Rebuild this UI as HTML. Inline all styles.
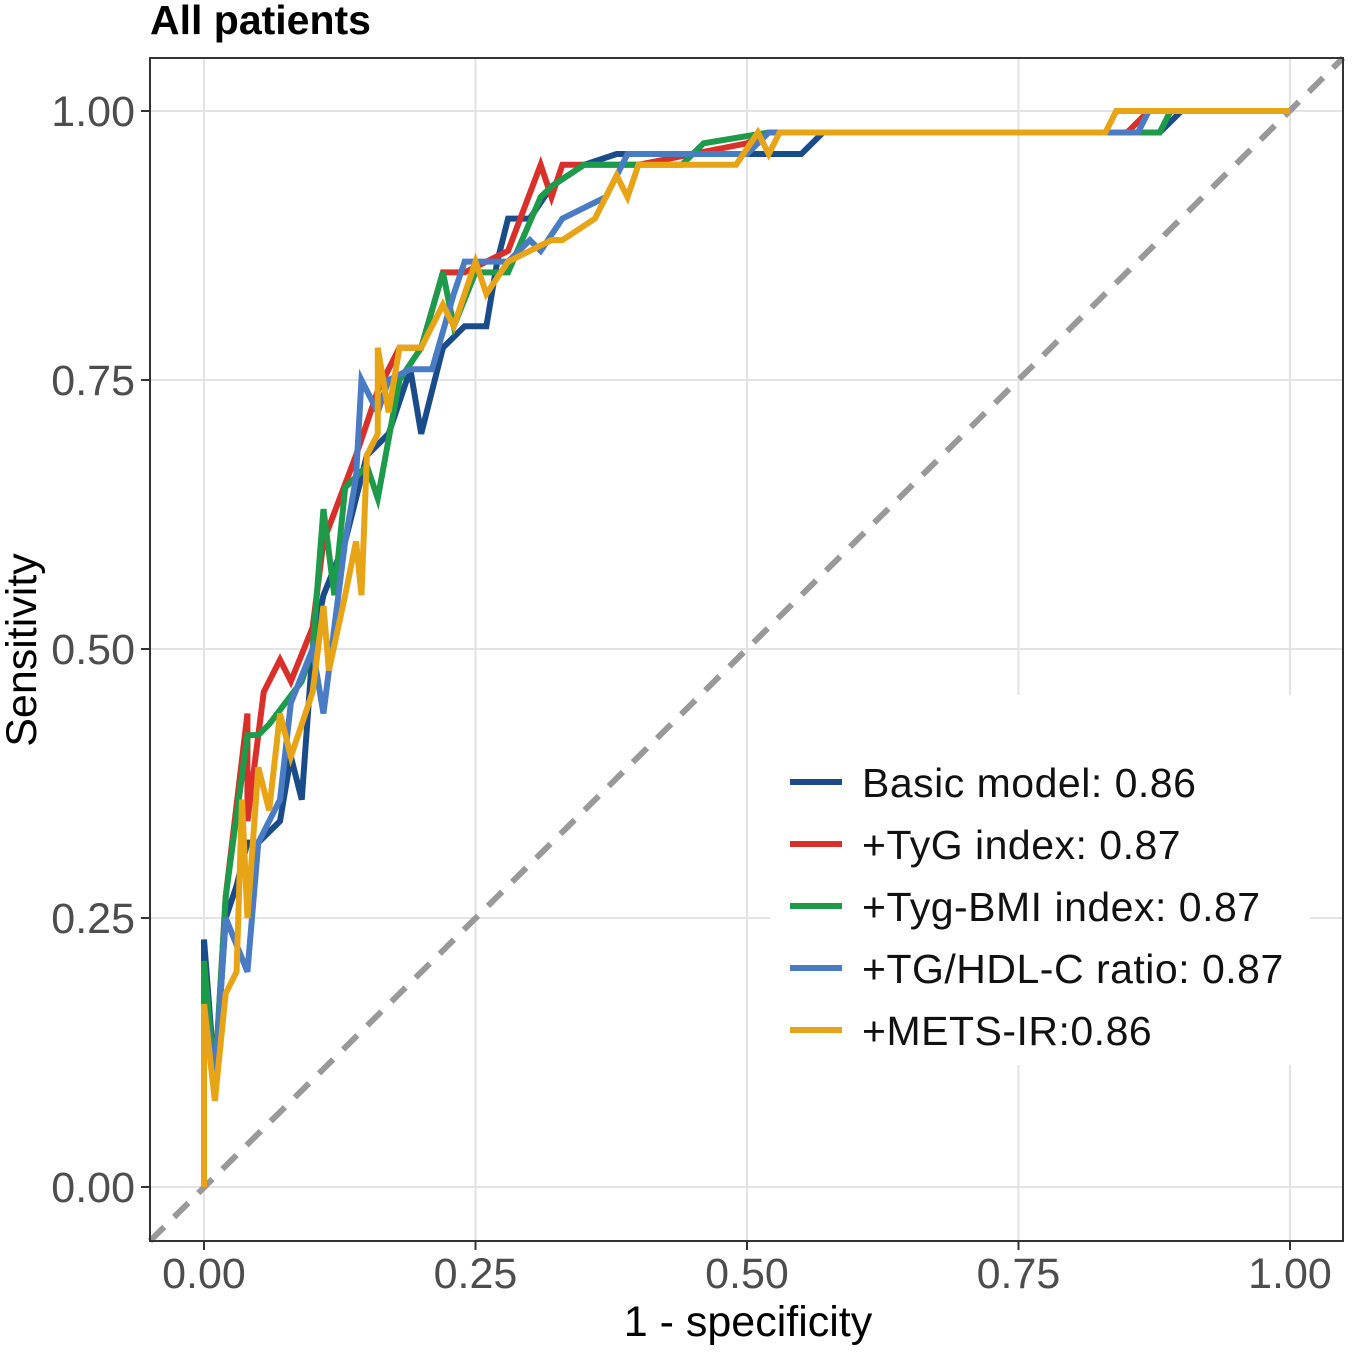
<!DOCTYPE html>
<html><head><meta charset="utf-8"><style>
body{margin:0;background:#fff}
svg{display:block;font-family:"Liberation Sans",Arial,sans-serif}
</style></head><body>
<svg id="chart" width="1355" height="1355" viewBox="0 0 1355 1355">
<rect width="1355" height="1355" fill="#fff"/>
<g id="grid"></g>
<line x1="150" y1="1241" x2="1343" y2="58" stroke="#999" stroke-width="6" stroke-dasharray="20,14"/>
<g id="series"></g>
<rect x="770" y="695" width="540" height="370" fill="#fff"/>
<rect x="150" y="58" width="1193" height="1183" fill="none" stroke="#333" stroke-width="2"/>
<g id="ticks"></g>
<text x="150" y="34" font-size="41" font-weight="bold">All patients</text>
<text x="748" y="1336" font-size="43" text-anchor="middle">1 - specificity</text>
<text transform="translate(36,650) rotate(-90)" font-size="43" text-anchor="middle">Sensitivity</text>
<g id="legend"></g>
</svg>
<script>
const ticks=[0,0.25,0.5,0.75,1];
const tickLabels=["0.00","0.25","0.50","0.75","1.00"];
const seriesNames=["Basic model: 0.86","+TyG index: 0.87","+Tyg-BMI index: 0.87","+TG/HDL-C ratio: 0.87","+METS-IR:0.86"];
const seriesColors=["#1b4c8a","#d9302a","#1d9a4a","#4a7cc4","#e8a417"];
const basicFpr=[0,0,0.01,0.02,0.03,0.04,0.05,0.06,0.07,0.08,0.09,0.1,0.11,0.13,0.15,0.17,0.19,0.2,0.22,0.24,0.26,0.27,0.28,0.3,0.32,0.35,0.38,0.5,0.55,0.57,0.88,0.9,1];
const basicTpr=[0,0.23,0.1,0.25,0.28,0.32,0.32,0.33,0.34,0.4,0.36,0.5,0.55,0.6,0.68,0.7,0.76,0.7,0.78,0.8,0.8,0.86,0.9,0.9,0.93,0.95,0.96,0.96,0.96,0.98,0.98,1,1];
const tygFpr=[0,0,0.01,0.02,0.04,0.04,0.055,0.07,0.08,0.1,0.11,0.14,0.16,0.18,0.2,0.22,0.24,0.28,0.31,0.32,0.33,0.4,0.5,0.52,0.85,0.87,1];
const tygTpr=[0,0.2,0.1,0.27,0.44,0.34,0.46,0.49,0.47,0.52,0.6,0.68,0.74,0.78,0.78,0.85,0.85,0.87,0.95,0.92,0.95,0.95,0.97,0.98,0.98,1,1];
const bmiFpr=[0,0,0.01,0.02,0.04,0.05,0.06,0.09,0.1,0.11,0.12,0.13,0.15,0.16,0.18,0.2,0.22,0.23,0.25,0.28,0.31,0.32,0.35,0.44,0.46,0.52,0.88,0.89,1];
const bmiTpr=[0,0.21,0.1,0.27,0.42,0.42,0.43,0.47,0.5,0.63,0.55,0.65,0.67,0.64,0.75,0.78,0.85,0.8,0.85,0.85,0.92,0.93,0.95,0.95,0.97,0.98,0.98,1,1];
const tgFpr=[0,0,0.01,0.02,0.04,0.05,0.07,0.08,0.1,0.11,0.13,0.14,0.145,0.16,0.17,0.19,0.21,0.23,0.24,0.28,0.3,0.31,0.33,0.35,0.37,0.39,0.5,0.52,0.86,0.87,1];
const tgTpr=[0,0.17,0.1,0.25,0.2,0.32,0.36,0.45,0.5,0.44,0.6,0.66,0.75,0.72,0.75,0.76,0.76,0.83,0.86,0.86,0.88,0.87,0.9,0.91,0.92,0.96,0.96,0.98,0.98,1,1];
const metsFpr=[0,0,0.01,0.02,0.03,0.035,0.04,0.05,0.06,0.07,0.08,0.1,0.11,0.115,0.13,0.14,0.145,0.15,0.16,0.16,0.17,0.18,0.2,0.22,0.23,0.25,0.26,0.28,0.32,0.33,0.36,0.38,0.39,0.4,0.49,0.51,0.52,0.53,0.83,0.84,1];
const metsTpr=[0,0.17,0.08,0.18,0.2,0.36,0.25,0.39,0.35,0.44,0.4,0.46,0.54,0.48,0.55,0.6,0.55,0.68,0.7,0.78,0.72,0.78,0.78,0.82,0.8,0.86,0.83,0.86,0.88,0.88,0.9,0.94,0.92,0.95,0.95,0.98,0.96,0.98,0.98,1,1];
const allFpr=[basicFpr,tygFpr,bmiFpr,tgFpr,metsFpr];
const allTpr=[basicTpr,tygTpr,bmiTpr,tgTpr,metsTpr];
const NS="http://www.w3.org/2000/svg";
const xs=v=>204+v*1086, ys=v=>1187-v*1076;
function mk(tag,attrs,parent){const e=document.createElementNS(NS,tag);for(const k in attrs)e.setAttribute(k,attrs[k]);parent.appendChild(e);return e;}
const grid=document.getElementById('grid'),tk=document.getElementById('ticks');
ticks.forEach((t,i)=>{
 const lv=mk('line',{x1:xs(t),x2:xs(t),y1:58,y2:1241,stroke:'#e3e3e3','stroke-width':2},grid);
 
 
 const lh=mk('line',{x1:150,x2:1343,y1:ys(t),y2:ys(t),stroke:'#e3e3e3','stroke-width':2},grid);
 
 
 const a=mk('line',{x1:xs(t),x2:xs(t),y1:1241,y2:1250,stroke:'#333','stroke-width':2},tk);
 
 
 const b=mk('line',{x1:141,x2:150,y1:ys(t),y2:ys(t),stroke:'#333','stroke-width':2},tk);
 
 
 const xl=mk('text',{x:xs(t),y:1288,'font-size':43,fill:'#4d4d4d','text-anchor':'middle'},tk);xl.textContent=tickLabels[i];
 
 
 const yl=mk('text',{x:135,y:ys(t)+15,'font-size':43,fill:'#4d4d4d','text-anchor':'end'},tk);yl.textContent=tickLabels[i];
 
 
});
const sg=document.getElementById('series'),lg=document.getElementById('legend');
seriesNames.forEach((n,i)=>{
 const pts=allFpr[i].map((f,j)=>xs(f)+','+ys(allTpr[i][j])).join(' ');
 const p=mk('polyline',{points:pts,fill:'none',stroke:seriesColors[i],'stroke-width':6,'stroke-linejoin':'miter'},sg);
 
 
 const y=782+i*62;
 const k=mk('line',{x1:790,x2:842,y1:y,y2:y,stroke:seriesColors[i],'stroke-width':6},lg);
 
 
 const t=mk('text',{x:862,y:y+15,'font-size':41,fill:'#111','letter-spacing':0.5},lg);t.textContent=n;
 
 
});
</script>
</body></html>
